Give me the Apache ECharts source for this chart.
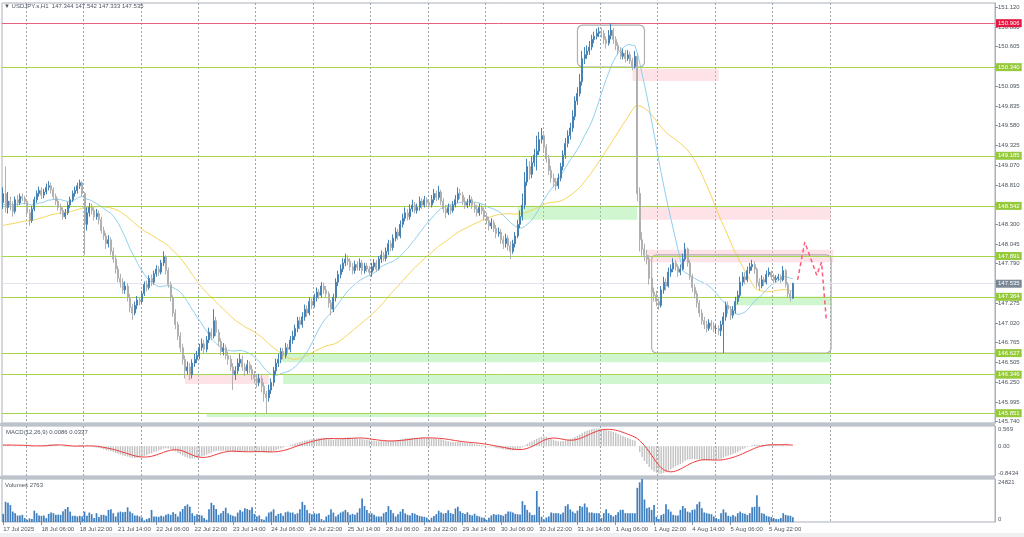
<!DOCTYPE html>
<html><head><meta charset="utf-8">
<script src="https://cdn.jsdelivr.net/npm/echarts@6/dist/echarts.min.js"></script>
<style>html,body{margin:0;padding:0;background:#fff;}#c{width:1024px;height:537px;}</style>
</head><body><div id="c"></div>
<script>
// ---------------- DATA ----------------
const chartTitle = '\u25BC USDJPY.s,H1  147.344 147.542 147.333 147.535';
const macdTitle = 'MACD(12,26,9) 0.0086 0.0337';
const volTitle = 'Volumes 2763';
const open0 = 148.58;
const closes = [
148.70,148.52,148.60,148.55,148.47,148.62,148.58,148.66,148.64,148.60,
148.45,148.35,148.50,148.62,148.70,148.74,148.68,148.72,148.78,148.80,
148.75,148.66,148.60,148.52,148.48,148.40,148.45,148.55,148.62,148.70,
148.74,148.80,148.84,148.70,148.30,148.45,148.52,148.48,148.40,148.44,
148.36,148.22,148.15,148.05,148.10,147.95,147.85,147.72,147.60,147.55,
147.45,147.50,147.35,147.22,147.15,147.25,147.32,147.30,147.40,147.52,
147.48,147.60,147.55,147.66,147.72,147.68,147.80,147.88,147.70,147.52,
147.35,147.15,147.00,146.85,146.70,146.55,146.40,146.45,146.35,146.50,
146.55,146.60,146.70,146.75,146.68,146.80,146.90,146.85,147.05,146.90,
146.78,146.65,146.70,146.60,146.55,146.45,146.35,146.40,146.50,146.55,
146.45,146.40,146.48,146.42,146.35,146.30,146.25,146.30,146.20,146.10,
146.05,146.15,146.25,146.40,146.50,146.55,146.65,146.60,146.70,146.68,
146.80,146.85,146.95,147.05,147.00,147.10,147.20,147.15,147.30,147.25,
147.35,147.42,147.38,147.50,147.45,147.40,147.28,147.20,147.35,147.55,
147.65,147.72,147.80,147.85,147.82,147.75,147.70,147.78,147.74,147.80,
147.70,147.76,147.72,147.68,147.75,147.80,147.72,147.85,147.90,147.86,
147.95,148.05,148.00,148.12,148.20,148.15,148.30,148.38,148.45,148.40,
148.50,148.55,148.48,148.52,148.60,148.55,148.62,148.58,148.55,148.62,
148.70,148.65,148.72,148.60,148.50,148.45,148.52,148.48,148.55,148.62,
148.70,148.68,148.60,148.55,148.58,148.62,148.55,148.50,148.45,148.52,
148.48,148.40,148.35,148.28,148.32,148.25,148.18,148.20,148.10,148.05,
148.12,148.02,147.95,148.05,148.15,148.30,148.40,148.55,148.85,149.05,
148.95,149.10,149.20,149.25,149.40,149.45,149.30,149.15,149.00,148.90,
148.85,148.80,148.90,149.05,149.20,149.35,149.45,149.55,149.70,149.90,
150.00,150.15,150.45,150.50,150.55,150.60,150.70,150.74,150.78,150.80,
150.78,150.70,150.65,150.75,150.82,150.70,150.62,150.55,150.48,150.52,
150.45,150.50,150.42,150.35,150.48,148.70,148.10,147.98,147.90,147.85,
147.60,147.42,147.38,147.30,147.25,147.45,147.55,147.50,147.68,147.72,
147.80,147.75,147.68,147.72,147.85,147.98,147.80,147.62,147.48,147.40,
147.28,147.15,147.05,147.00,146.95,147.02,146.98,146.95,146.95,146.92,
147.00,147.10,147.25,147.20,147.12,147.18,147.30,147.38,147.55,147.62,
147.58,147.70,147.75,147.78,147.72,147.55,147.50,147.58,147.55,147.65,
147.68,147.62,147.58,147.60,147.62,147.58,147.70,147.52,147.40,147.344,
147.535];
const highs = [
148.78,149.05,148.72,148.66,148.60,148.66,148.68,148.70,148.70,148.67,
148.63,148.50,148.54,148.66,148.74,148.79,148.78,148.76,148.83,148.86,
148.84,148.78,148.70,148.64,148.57,148.52,148.50,148.59,148.66,148.74,
148.79,148.84,148.88,148.86,148.72,148.52,148.58,148.57,148.52,148.50,
148.48,148.40,148.27,148.19,148.16,148.13,148.00,147.90,147.76,147.66,
147.60,147.56,147.54,147.40,147.27,147.30,147.37,147.36,147.44,147.56,
147.57,147.64,147.65,147.70,147.77,147.76,147.84,147.95,147.90,147.74,
147.56,147.38,147.20,147.04,146.90,146.75,146.60,146.52,146.50,146.55,
146.62,146.66,146.75,146.82,146.80,146.85,146.96,146.95,147.20,147.10,
146.94,146.82,146.76,146.74,146.65,146.60,146.50,146.46,146.56,146.62,
146.60,146.50,146.54,146.52,146.47,146.40,146.35,146.36,146.34,146.25,
146.14,146.22,146.30,146.45,146.56,146.62,146.70,146.70,146.76,146.75,
146.85,146.92,147.00,147.10,147.10,147.16,147.26,147.25,147.35,147.34,
147.40,147.48,147.46,147.55,147.54,147.50,147.43,147.32,147.40,147.60,
147.70,147.78,147.86,147.92,147.90,147.86,147.80,147.83,147.82,147.86,
147.84,147.80,147.80,147.76,147.80,147.85,147.84,147.89,147.96,147.94,
148.00,148.10,148.09,148.17,148.26,148.24,148.35,148.44,148.52,148.50,
148.56,148.62,148.59,148.57,148.66,148.64,148.67,148.65,148.62,148.68,
148.76,148.74,148.80,148.75,148.64,148.55,148.57,148.56,148.60,148.68,
148.78,148.76,148.72,148.65,148.63,148.68,148.66,148.59,148.55,148.57,
148.56,148.52,148.45,148.40,148.38,148.36,148.29,148.26,148.24,148.15,
148.18,148.16,148.08,148.10,148.20,148.36,148.48,148.70,148.98,149.15,
149.12,149.18,149.28,149.45,149.50,149.55,149.48,149.34,149.20,149.06,
148.96,148.90,148.96,149.10,149.26,149.42,149.52,149.62,149.78,149.96,
150.08,150.25,150.55,150.60,150.62,150.68,150.76,150.80,150.84,150.86,
150.85,150.82,150.74,150.82,150.906,150.85,150.74,150.66,150.60,150.58,
150.56,150.56,150.54,150.46,150.55,150.52,148.78,148.20,148.05,147.97,
147.90,147.64,147.48,147.44,147.34,147.50,147.62,147.60,147.74,147.78,
147.86,147.84,147.78,147.78,147.92,148.06,148.00,147.84,147.66,147.52,
147.44,147.32,147.20,147.10,147.05,147.07,147.06,147.03,147.00,146.99,
147.05,147.16,147.30,147.30,147.24,147.24,147.36,147.44,147.62,147.68,
147.68,147.75,147.80,147.84,147.82,147.74,147.60,147.64,147.62,147.70,
147.74,147.70,147.66,147.64,147.66,147.65,147.76,147.72,147.55,147.44,
147.542];
const lows = [
148.50,148.45,148.44,148.48,148.40,148.44,148.54,148.55,148.60,148.56,
148.40,148.28,148.32,148.47,148.58,148.66,148.63,148.64,148.69,148.74,
148.70,148.62,148.55,148.48,148.43,148.36,148.37,148.42,148.51,148.59,
148.66,148.70,148.76,148.66,147.90,148.22,148.40,148.43,148.35,148.36,
148.30,148.18,148.10,147.98,148.00,147.90,147.80,147.66,147.55,147.48,
147.40,147.40,147.30,147.16,147.06,147.12,147.20,147.25,147.27,147.37,
147.43,147.45,147.50,147.52,147.62,147.63,147.65,147.76,147.65,147.48,
147.30,147.10,146.94,146.80,146.64,146.48,146.30,146.35,146.28,146.30,
146.45,146.50,146.55,146.66,146.62,146.64,146.76,146.80,146.82,146.85,
146.72,146.60,146.60,146.55,146.48,146.40,146.15,146.28,146.36,146.45,
146.40,146.33,146.36,146.37,146.28,146.24,146.18,146.20,146.12,146.00,
145.85,146.00,146.10,146.20,146.35,146.45,146.50,146.55,146.56,146.62,
146.64,146.75,146.80,146.90,146.94,146.96,147.05,147.10,147.12,147.20,
147.22,147.30,147.33,147.35,147.40,147.35,147.22,147.12,147.16,147.30,
147.50,147.60,147.68,147.76,147.77,147.70,147.65,147.66,147.70,147.70,
147.65,147.66,147.68,147.64,147.62,147.70,147.68,147.70,147.80,147.82,
147.82,147.90,147.95,147.96,148.08,148.10,148.12,148.26,148.34,148.35,
148.36,148.46,148.44,148.44,148.48,148.50,148.52,148.54,148.50,148.52,
148.58,148.60,148.62,148.55,148.45,148.38,148.42,148.43,148.45,148.52,
148.58,148.63,148.55,148.50,148.51,148.54,148.50,148.45,148.40,148.41,
148.43,148.35,148.30,148.22,148.24,148.20,148.12,148.14,148.05,147.98,
148.00,147.96,147.85,147.92,148.00,148.12,148.25,148.35,148.50,148.80,
148.88,148.90,149.05,149.00,149.20,149.35,149.25,149.10,148.94,148.84,
148.78,148.74,148.76,148.86,149.00,149.15,149.30,149.40,149.50,149.65,
149.85,149.96,150.10,150.38,150.45,150.50,150.56,150.65,150.70,150.73,
150.72,150.64,150.58,150.62,150.70,150.64,150.56,150.50,150.44,150.44,
150.40,150.42,150.38,150.30,150.32,148.60,147.95,147.88,147.82,147.78,
147.52,147.36,147.30,147.24,147.19,147.22,147.40,147.44,147.48,147.62,
147.68,147.70,147.62,147.64,147.70,147.82,147.75,147.58,147.42,147.34,
147.22,147.10,147.00,146.94,146.90,146.92,146.93,146.90,146.88,146.86,
146.85,146.63,147.05,147.14,147.06,147.08,147.14,147.26,147.35,147.50,
147.52,147.55,147.66,147.70,147.66,147.48,147.44,147.47,147.50,147.52,
147.62,147.58,147.54,147.55,147.57,147.54,147.56,147.48,147.35,147.30,
147.333];
const volumes = [
4700,11660,11090,9780,6020,5080,3760,3760,4140,2260,
1320,2070,1690,6580,5080,3760,3570,3760,2260,4700,
5450,5080,4140,4320,4140,6200,7520,8650,6020,3570,
3570,3200,3570,3200,6020,3570,5450,4510,2260,5080,
2820,4140,4140,3570,6960,7330,5080,3200,5450,6020,
5640,5830,8460,6020,5080,3760,3760,3200,2630,940,
1690,2260,6960,3200,3200,3010,3570,3200,4140,4700,
4140,5640,4700,3200,6020,7520,9210,10150,8840,5080,
3570,4510,4140,3760,2260,1320,7330,11090,9780,7520,
4140,5080,6390,8270,5080,4140,3570,3200,5450,6960,
6020,7900,7520,6960,8460,4700,3200,3760,1690,1320,
3200,5450,6020,7330,3570,4700,5080,3570,5640,6020,
5450,5450,4510,5080,7330,11660,9780,6960,5080,4510,
5080,4700,5080,1690,940,3200,4140,7330,5450,3200,
4320,5450,6020,6960,5640,4140,4700,4140,5450,7900,
13540,9210,6960,5080,5080,4140,3200,3200,3200,5080,
5830,9210,6960,5080,3200,4500,6000,7500,5000,4200,
3800,5200,4800,4000,3500,3200,3000,2500,1200,2500,
3500,4500,6500,5500,4800,5200,6800,5200,4600,7800,
8800,6200,5200,4600,5600,4200,3800,4800,3600,3200,
2600,2400,1200,2500,3800,4600,4200,4400,4100,3600,
4700,6000,6000,5500,4700,4500,4300,12000,9800,7000,
5500,4100,4100,17900,8800,3000,1500,2600,3200,5500,
5100,5100,5100,4500,5500,9200,10200,7300,6000,5100,
6600,9200,8800,10700,8500,5500,5500,5100,5100,5100,
2300,5100,7300,5100,4100,3200,4100,5600,7000,7000,
5100,5100,5100,5100,5100,19700,22900,24821,13000,7900,
8500,7000,9800,3000,1700,4000,4700,10200,7300,6000,
4100,3800,3800,7000,9200,7900,6000,5500,7000,7300,
10200,11700,7900,5500,5100,4700,4500,3200,2300,1700,
5100,7300,5500,3600,3200,4100,3200,5100,6000,5100,
4700,4100,5100,8500,8800,15400,8800,5100,4700,3600,
3200,2800,2300,1700,1700,2300,5100,4100,3800,3600,
2763];
const xTickLabels = ['17 Jul 2025','18 Jul 06:00','18 Jul 22:00','21 Jul 14:00','22 Jul 06:00','22 Jul 22:00',
  '23 Jul 14:00','24 Jul 06:00','24 Jul 22:00','25 Jul 14:00','28 Jul 06:00','28 Jul 22:00','29 Jul 14:00',
  '30 Jul 06:00','30 Jul 22:00','31 Jul 14:00','1 Aug 06:00','1 Aug 22:00','4 Aug 14:00','5 Aug 06:00','5 Aug 22:00'];
const barsPerLabel = 16;
const dayStarts = [10,34,58,82,106,130,154,178,202,226,250,274,298,322,346];
const totalSlots = 415;
const priceTicks = [151.120,150.860,150.605,150.350,150.095,149.835,149.580,149.325,149.070,148.810,148.555,
  148.300,148.045,147.790,147.535,147.275,147.020,146.765,146.505,146.250,145.995,145.740];
const priceMin = 145.723, priceMax = 151.172;
const macdTicks = [0.569, 0, -0.8434];
const macdTickLabels = ['0.569', '0.00', '-0.8434'];
const volTicks = [24821, 0];
const greenLevels = [150.340,149.185,148.542,147.891,147.364,146.627,146.346,145.851];
const redLevel = 150.906;
const bidLevel = 147.535;
// zones: [fromSlot, toSlot, lowPrice, highPrice]
const greenZones = [[215,265,148.36,148.542],[306,346,147.25,147.364],[116,346,146.51,146.627],[117,346,146.23,146.346],[85,202,145.80,145.851]];
const pinkZones = [[263,299,150.16,150.32],[266,346,148.36,148.53],[269,347,147.81,147.97],[76,111,146.23,146.36]];
const boxes = [[240,268,150.342,150.886],[271,346,146.631,147.903]];
const forecast = [[332,147.58],[335,148.07],[340,147.64],[342,147.81],[344,147.06]];
// indicator settings and their starting values read at the left edge
const blueMaPeriod = 20, blueMaStart = 148.55;
const yellowMaPeriod = 50, yellowMaStart = 148.28;
const macdFast = 12, macdSlow = 26, macdSignalPeriod = 9;
const macdFastStart = 148.60, macdSlowStart = 148.56, macdSignalStart = 0.03;

// ---------------- BUILD ----------------
const FONT = 'Liberation Sans';
const N = closes.length;
const cats = Array.from({length: totalSlots}, (_, i) => String(i));
const candles = closes.map((c, i) => {
  const o = i ? closes[i - 1] : open0;
  return [o, c, Math.min(lows[i], o, c), Math.max(highs[i], o, c)];
});
function sma(src, n, start) {
  return src.map((_, i) => { let s = 0; for (let k = i - n + 1; k <= i; k++) s += k < 0 ? start : src[k]; return +(s / n).toFixed(4); });
}
function ema(src, n, start) { const a = 2 / (n + 1); let e = start; return src.map(v => (e = e + a * (v - e))); }
const blueMa = sma(closes, blueMaPeriod, blueMaStart);
const yellowMa = sma(closes, yellowMaPeriod, yellowMaStart);
const eF = ema(closes, macdFast, macdFastStart), eS = ema(closes, macdSlow, macdSlowStart);
const macdMain = eF.map((v, i) => +(v - eS[i]).toFixed(4));
const macdSignal = sma(macdMain, macdSignalPeriod, macdSignalStart);

const gridL = 2, gridR = 29;
const grids = [
  {left: gridL, right: gridR, top: 3, height: 420},
  {left: gridL, right: gridR, top: 426, height: 50},
  {left: gridL, right: gridR, top: 479, height: 43}
].map(g => Object.assign(g, {show: true, borderColor: '#a9b1b9', borderWidth: 1, backgroundColor: '#fff', outerBoundsMode: 'none', containLabel: false}));

const isDay = idx => dayStarts.indexOf(idx) >= 0;
const isLabel = idx => idx % barsPerLabel === 0 && idx / barsPerLabel < xTickLabels.length;
function xAx(gi, withLabels) {
  return {
    type: 'category', gridIndex: gi, data: cats, boundaryGap: true,
    axisLine: {show: false},
    axisTick: {show: withLabels, interval: isLabel, alignWithLabel: true, length: 3, lineStyle: {color: '#8a939c'}},
    axisLabel: {show: withLabels, interval: isLabel, align: 'left', margin: 4, fontSize: 6, color: '#4b5560', fontFamily: FONT,
      formatter: (v, i) => xTickLabels[Math.round(i / barsPerLabel)] || ''},
    splitLine: {show: true, interval: isDay, lineStyle: {color: '#9aa3ab', type: [2, 2], width: 1}}
  };
}
const axText = {fontSize: 6, color: '#4b5560', fontFamily: FONT};
const yAxes = [
  {type: 'value', gridIndex: 0, position: 'right', min: priceMin, max: priceMax,
   axisLine: {show: true, lineStyle: {color: '#a9b1b9'}},
   axisTick: {show: true, customValues: priceTicks, length: 3, lineStyle: {color: '#8a939c'}},
   axisLabel: Object.assign({customValues: priceTicks, margin: 3, formatter: v => v.toFixed(3)}, axText),
   splitLine: {show: false}},
  {type: 'value', gridIndex: 1, position: 'right', min: macdTicks[2], max: macdTicks[0],
   axisLine: {show: true, lineStyle: {color: '#a9b1b9'}},
   axisTick: {show: false},
   axisLabel: Object.assign({customValues: macdTicks, margin: 3,
     formatter: v => { const k = macdTicks.indexOf(v); const t = macdTickLabels[k]; return k === 0 ? '{t|' + t + '}' : k === 2 ? '{b|' + t + '}' : t; },
     rich: {t: {padding: [6, 0, 0, 0], fontSize: 6, color: '#4b5560'}, b: {padding: [0, 0, 6, 0], fontSize: 6, color: '#4b5560'}}}, axText),
   splitLine: {show: false}},
  {type: 'value', gridIndex: 2, position: 'right', min: 0, max: volTicks[0],
   axisLine: {show: true, lineStyle: {color: '#a9b1b9'}},
   axisTick: {show: false},
   axisLabel: Object.assign({customValues: volTicks, margin: 3,
     formatter: v => v === volTicks[0] ? '{t|' + v + '}' : '{b|' + v + '}',
     rich: {t: {padding: [6, 0, 0, 0], fontSize: 6, color: '#4b5560'}, b: {padding: [0, 0, 6, 0], fontSize: 6, color: '#4b5560'}}}, axText),
   splitLine: {show: false}}
];

function lvl(v, lineColor, bg) {
  return {yAxis: v, lineStyle: {color: lineColor, width: 1, type: 'solid'},
    label: {show: true, position: 'end', distance: 1, formatter: v.toFixed(3), color: '#fff', backgroundColor: bg,
      padding: [1, 2, 1, 2], fontSize: 6, fontFamily: FONT}};
}
const levelLines = [lvl(bidLevel, '#e4e4ee', '#7a8796'), lvl(redLevel, '#e3637e', '#e3173f')]
  .concat(greenLevels.map(v => lvl(v, '#a6d54a', '#95c93a')));
const zoneAreas = greenZones.map(z => [{xAxis: z[0], yAxis: z[3], itemStyle: {color: 'rgba(150,235,150,0.45)'}}, {xAxis: z[1], yAxis: z[2]}])
  .concat(pinkZones.map(z => [{xAxis: z[0], yAxis: z[3], itemStyle: {color: 'rgba(250,190,205,0.45)'}}, {xAxis: z[1], yAxis: z[2]}]));

const option = {
  animation: false,
  backgroundColor: '#ffffff',
  textStyle: {fontFamily: FONT},
  title: [
    {text: chartTitle, left: 4, top: 3, padding: 0, textStyle: {fontSize: 6, fontWeight: 'normal', color: '#4b5560', fontFamily: FONT}},
    {text: macdTitle, left: 6, top: 429, padding: 0, textStyle: {fontSize: 6, fontWeight: 'normal', color: '#4b5560', fontFamily: FONT}},
    {text: volTitle, left: 5, top: 482, padding: 0, textStyle: {fontSize: 6, fontWeight: 'normal', color: '#4b5560', fontFamily: FONT}}
  ],
  grid: grids,
  xAxis: [xAx(0, false), xAx(1, false), xAx(2, true)],
  yAxis: yAxes,
  graphic: [
    {type: 'rect', shape: {x: 0, y: 423, width: 995, height: 3}, style: {fill: '#bcc3ca'}, z: 100},
    {type: 'rect', shape: {x: 0, y: 476, width: 995, height: 3}, style: {fill: '#bcc3ca'}, z: 100},
    {type: 'rect', shape: {x: 0, y: 533, width: 1024, height: 4}, style: {fill: '#eef0f2'}, z: 100}
  ],
  series: [
    {type: 'line', name: 'zones', xAxisIndex: 0, yAxisIndex: 0, data: [], z: 1, silent: true,
     markArea: {silent: true, data: zoneAreas}},
    {type: 'custom', name: 'boxes', xAxisIndex: 0, yAxisIndex: 0, z: 4, silent: true, data: boxes,
     encode: {x: [0, 1], y: [2, 3]},
     renderItem: (params, api) => {
       const p0 = api.coord([api.value(0), api.value(3)]);
       const p1 = api.coord([api.value(1), api.value(2)]);
       return {type: 'rect', shape: {x: p0[0], y: p0[1], width: p1[0] - p0[0], height: p1[1] - p0[1], r: 5},
         style: {fill: 'rgba(0,0,0,0)', stroke: '#b0b0b0', lineWidth: 1.2}};
     }},
    {type: 'line', name: 'levels', xAxisIndex: 0, yAxisIndex: 0, data: [], z: 2, silent: true,
     markLine: {silent: true, symbol: ['none', 'none'], data: levelLines}},
    {type: 'line', name: 'MA' + yellowMaPeriod, xAxisIndex: 0, yAxisIndex: 0, data: yellowMa, showSymbol: false, z: 3,
     lineStyle: {color: '#f7d55a', width: 1}},
    {type: 'line', name: 'MA' + blueMaPeriod, xAxisIndex: 0, yAxisIndex: 0, data: blueMa, showSymbol: false, z: 3,
     lineStyle: {color: '#8fd0ee', width: 1}},
    {type: 'candlestick', xAxisIndex: 0, yAxisIndex: 0, data: candles, barWidth: 1.5, z: 5,
     itemStyle: {color: '#4682b4', color0: '#b0b0b0', borderColor: '#4682b4', borderColor0: '#b0b0b0', borderWidth: 1}},
    {type: 'line', name: 'forecast', xAxisIndex: 0, yAxisIndex: 0, data: forecast, showSymbol: false, z: 6,
     lineStyle: {color: '#ff5c7c', width: 1.5, type: [4, 3]}},
    {type: 'bar', name: 'MACD', xAxisIndex: 1, yAxisIndex: 1, data: macdMain, barWidth: 1.4, itemStyle: {color: '#c2c2c2'}},
    {type: 'line', name: 'Signal', xAxisIndex: 1, yAxisIndex: 1, data: macdSignal, showSymbol: false,
     lineStyle: {color: '#ee3b3b', width: 1}},
    {type: 'bar', name: 'Volumes', xAxisIndex: 2, yAxisIndex: 2, data: volumes, barWidth: 1.7, itemStyle: {color: '#3f7fbf'}}
  ]
};
const chart = echarts.init(document.getElementById('c'), null, {renderer: 'canvas'});
chart.setOption(option);
</script></body></html>
